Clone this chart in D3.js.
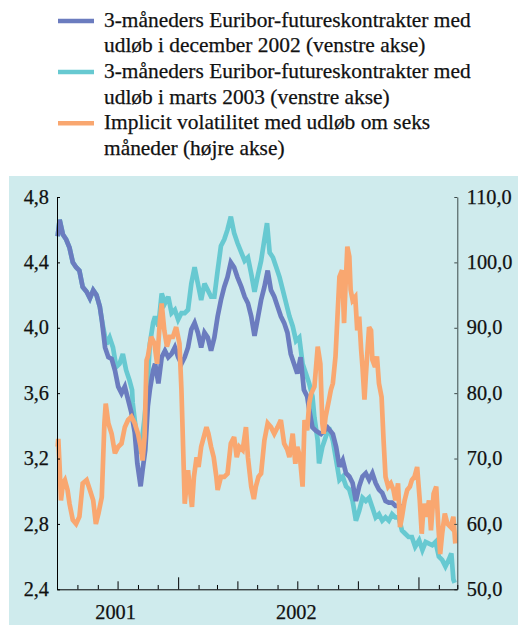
<!DOCTYPE html>
<html>
<head>
<meta charset="utf-8">
<script src="https://cdn.jsdelivr.net/npm/d3@7"></script>
<style>
  html, body { margin: 0; padding: 0; background: #ffffff; }
  svg { display: block; }
  text { font-family: "Liberation Serif", "Times New Roman", "DejaVu Serif", serif; fill: #111; stroke: #111; stroke-width: 0.25px; }
</style>
</head>
<body>
<svg id="chart" width="518" height="626"></svg>
<script>
// ---------- DATA ----------
const legendLabels = [
  ["3-måneders Euribor-futureskontrakter med", "udløb i december 2002 (venstre akse)"],
  ["3-måneders Euribor-futureskontrakter med", "udløb i marts 2003 (venstre akse)"],
  ["Implicit volatilitet med udløb om seks", "måneder (højre akse)"]
];
const leftTicks = [2.4, 2.8, 3.2, 3.6, 4.0, 4.4, 4.8];
const rightTicks = [50, 60, 70, 80, 90, 100, 110];
const yearLabels = ["2001", "2002"];

const dec02 = [
["2001-07-02",4.56],["2001-07-05",4.66],["2001-07-10",4.57],["2001-07-15",4.54],["2001-07-20",4.49],["2001-07-25",4.40],["2001-07-30",4.37],["2001-08-04",4.35],["2001-08-09",4.25],["2001-08-15",4.22],["2001-08-20",4.18],["2001-08-25",4.23],["2001-08-30",4.20],["2001-09-04",4.13],["2001-09-07",4.05],["2001-09-12",3.88],["2001-09-17",3.82],["2001-09-22",3.81],["2001-09-27",3.74],["2001-10-02",3.64],["2001-10-07",3.60],["2001-10-12",3.64],["2001-10-17",3.56],["2001-10-22",3.48],["2001-10-27",3.36],["2001-10-31",3.17],["2001-11-05",3.03],["2001-11-08",3.13],["2001-11-12",3.25],["2001-11-16",3.52],["2001-11-19",3.62],["2001-11-24",3.74],["2001-11-27",3.78],["2001-12-02",3.66],["2001-12-07",3.82],["2001-12-12",3.86],["2001-12-17",3.82],["2001-12-22",3.84],["2001-12-27",3.88],
["2002-01-01",3.82],["2002-01-06",3.78],["2002-01-11",3.82],["2002-01-16",3.88],["2002-01-21",3.99],["2002-01-26",4.03],["2002-01-31",3.97],["2002-02-05",3.88],["2002-02-10",3.97],["2002-02-15",3.94],["2002-02-20",3.86],["2002-02-25",3.94],["2002-03-02",4.07],["2002-03-07",4.17],["2002-03-12",4.25],["2002-03-17",4.31],["2002-03-22",4.40],["2002-03-27",4.37],["2002-04-01",4.31],["2002-04-07",4.25],["2002-04-12",4.19],["2002-04-17",4.15],["2002-04-22",4.07],["2002-04-27",3.95],["2002-05-02",4.06],["2002-05-07",4.17],["2002-05-12",4.25],["2002-05-17",4.35],["2002-05-22",4.23],["2002-05-27",4.19],["2002-06-01",4.13],["2002-06-06",4.07],["2002-06-11",4.03],["2002-06-16",3.97],["2002-06-21",3.84],["2002-06-26",3.78],["2002-07-01",3.72],["2002-07-06",3.82],["2002-07-11",3.62],["2002-07-16",3.58],["2002-07-19",3.50],["2002-07-24",3.39],["2002-07-29",3.37],["2002-08-06",3.35],["2002-08-16",3.39],["2002-08-24",3.35],["2002-08-29",3.27],["2002-09-03",3.15],["2002-09-08",3.19],["2002-09-13",3.11],["2002-09-18",3.09],["2002-09-23",3.05],["2002-09-28",2.94],["2002-10-03",3.03],["2002-10-08",3.09],["2002-10-13",3.11],["2002-10-18",3.07],["2002-10-23",3.11],["2002-10-28",3.05],["2002-11-02",3.01],["2002-11-07",2.99],["2002-11-12",2.94],["2002-11-17",2.93],["2002-11-22",2.93],["2002-11-27",2.91],["2002-12-04",2.91],["2002-12-08",2.90]
];

const mar03 = [
["2001-07-02",4.56],["2001-07-05",4.66],["2001-07-10",4.57],["2001-07-15",4.54],["2001-07-20",4.49],["2001-07-25",4.40],["2001-07-30",4.37],["2001-08-04",4.35],["2001-08-09",4.25],["2001-08-15",4.22],["2001-08-20",4.18],["2001-08-25",4.23],["2001-08-30",4.20],["2001-09-04",4.13],["2001-09-07",4.05],["2001-09-14",3.90],["2001-09-19",3.94],["2001-09-24",3.88],["2001-09-29",3.76],["2001-10-04",3.78],["2001-10-09",3.84],["2001-10-14",3.74],["2001-10-19",3.68],["2001-10-23",3.62],["2001-10-24",3.54],["2001-10-29",3.37],["2001-11-03",3.23],["2001-11-07",3.31],["2001-11-11",3.45],["2001-11-15",3.62],["2001-11-19",3.90],["2001-11-24",4.03],["2001-11-27",4.07],["2001-12-02",4.01],["2001-12-07",4.21],["2001-12-12",4.15],["2001-12-17",4.19],["2001-12-22",4.09],["2001-12-27",4.11],
["2002-01-01",4.05],["2002-01-06",4.09],["2002-01-11",4.09],["2002-01-16",4.11],["2002-01-21",4.27],["2002-01-26",4.37],["2002-01-31",4.27],["2002-02-05",4.17],["2002-02-10",4.27],["2002-02-15",4.23],["2002-02-20",4.19],["2002-02-25",4.19],["2002-03-02",4.35],["2002-03-07",4.50],["2002-03-12",4.54],["2002-03-17",4.60],["2002-03-22",4.68],["2002-03-27",4.58],["2002-04-01",4.52],["2002-04-07",4.46],["2002-04-12",4.41],["2002-04-17",4.43],["2002-04-22",4.33],["2002-04-27",4.22],["2002-05-02",4.32],["2002-05-07",4.41],["2002-05-12",4.54],["2002-05-16",4.64],["2002-05-20",4.46],["2002-05-25",4.43],["2002-05-30",4.37],["2002-06-04",4.31],["2002-06-09",4.23],["2002-06-14",4.15],["2002-06-19",4.07],["2002-06-24",4.01],["2002-06-29",3.92],["2002-07-04",3.94],["2002-07-09",3.78],["2002-07-14",3.72],["2002-07-19",3.66],["2002-07-24",3.58],["2002-07-27",3.45],["2002-08-01",3.31],["2002-08-03",3.17],["2002-08-08",3.27],["2002-08-13",3.33],["2002-08-18",3.39],["2002-08-24",3.31],["2002-08-29",3.19],["2002-09-03",3.07],["2002-09-08",3.09],["2002-09-13",3.03],["2002-09-18",3.01],["2002-09-23",2.94],["2002-09-28",2.82],["2002-10-03",2.88],["2002-10-08",2.96],["2002-10-13",2.94],["2002-10-18",2.96],["2002-10-23",2.90],["2002-10-28",2.84],["2002-11-02",2.86],["2002-11-07",2.82],["2002-11-12",2.84],["2002-11-17",2.82],["2002-11-22",2.86],["2002-11-27",2.84],["2002-12-02",2.84],["2002-12-07",2.76],["2002-12-12",2.74],["2002-12-17",2.72],["2002-12-22",2.72],["2002-12-27",2.66],
["2003-01-02",2.70],["2003-01-07",2.64],["2003-01-12",2.69],["2003-01-17",2.68],["2003-01-22",2.67],["2003-01-27",2.69],["2003-02-01",2.60],["2003-02-06",2.58],["2003-02-11",2.54],["2003-02-16",2.58],["2003-02-20",2.62],["2003-02-23",2.46],["2003-02-25",2.44]
];

const vol = [
["2001-07-02",71.8],["2001-07-03",73.0],["2001-07-05",68.7],["2001-07-07",63.6],["2001-07-10",66.2],["2001-07-13",66.7],["2001-07-17",65.2],["2001-07-20",63.1],["2001-07-25",60.6],["2001-07-30",60.0],["2001-08-04",61.1],["2001-08-09",66.2],["2001-08-15",66.7],["2001-08-20",65.2],["2001-08-25",63.6],["2001-08-29",60.0],["2001-09-02",61.6],["2001-09-07",64.1],["2001-09-11",75.4],["2001-09-13",78.4],["2001-09-17",75.4],["2001-09-22",73.8],["2001-09-27",70.8],["2001-10-02",71.8],["2001-10-07",72.3],["2001-10-12",74.8],["2001-10-17",75.9],["2001-10-22",76.4],["2001-10-27",75.4],["2001-11-01",73.8],["2001-11-05",71.8],["2001-11-08",69.7],["2001-11-11",73.3],["2001-11-14",85.0],["2001-11-16",85.6],["2001-11-21",88.6],["2001-11-26",87.6],["2001-11-30",84.5],["2001-12-04",90.7],["2001-12-07",93.7],["2001-12-11",89.6],["2001-12-15",87.1],["2001-12-19",88.6],["2001-12-24",88.6],["2001-12-29",90.1],
["2002-01-03",87.6],["2002-01-06",80.5],["2002-01-09",70.2],["2002-01-11",63.1],["2002-01-14",66.2],["2002-01-16",68.2],["2002-01-19",65.2],["2002-01-22",62.6],["2002-01-25",67.2],["2002-01-29",70.2],["2002-02-01",68.7],["2002-02-05",71.8],["2002-02-09",73.3],["2002-02-13",74.8],["2002-02-16",73.8],["2002-02-20",71.8],["2002-02-24",70.2],["2002-02-28",67.2],["2002-03-02",65.2],["2002-03-07",67.2],["2002-03-12",67.2],["2002-03-17",67.7],["2002-03-22",72.3],["2002-03-27",73.3],["2002-03-31",70.2],["2002-04-04",71.8],["2002-04-09",71.3],["2002-04-14",74.8],["2002-04-17",70.2],["2002-04-22",65.7],["2002-04-26",63.8],["2002-04-29",65.7],["2002-05-03",67.2],["2002-05-07",67.7],["2002-05-12",72.8],["2002-05-17",75.4],["2002-05-22",74.8],["2002-05-27",73.8],["2002-06-01",74.8],["2002-06-06",75.9],["2002-06-11",72.3],["2002-06-16",71.3],["2002-06-19",70.2],["2002-06-24",73.8],["2002-06-28",69.2],["2002-07-01",71.8],["2002-07-05",70.2],["2002-07-09",65.7],["2002-07-12",75.9],["2002-07-16",74.3],["2002-07-19",78.4],["2002-07-22",79.9],["2002-07-27",81.0],["2002-08-01",87.1],["2002-08-05",84.5],["2002-08-08",75.4],["2002-08-10",73.8],["2002-08-13",76.4],["2002-08-18",78.9],["2002-08-21",80.5],["2002-08-24",81.5],["2002-08-28",85.6],["2002-08-31",91.7],["2002-09-03",97.8],["2002-09-07",98.8],["2002-09-10",90.7],["2002-09-12",95.8],["2002-09-15",102.4],["2002-09-18",100.9],["2002-09-20",95.8],["2002-09-23",94.2],["2002-09-27",94.7],["2002-09-30",89.6],["2002-10-03",91.7],["2002-10-06",86.6],["2002-10-08",84.0],["2002-10-11",79.0],["2002-10-13",82.5],["2002-10-16",87.1],["2002-10-18",90.1],["2002-10-21",89.6],["2002-10-23",85.1],["2002-10-27",84.0],["2002-10-30",85.6],["2002-11-02",81.5],["2002-11-06",79.4],["2002-11-09",72.8],["2002-11-12",67.2],["2002-11-16",65.7],["2002-11-20",66.2],["2002-11-24",65.2],["2002-11-27",63.6],["2002-12-01",66.2],["2002-12-04",59.5],["2002-12-07",61.1],["2002-12-11",63.6],["2002-12-15",65.2],["2002-12-19",65.7],["2002-12-22",66.7],["2002-12-26",67.2],["2002-12-30",68.7],
["2003-01-03",63.6],["2003-01-06",58.5],["2003-01-09",63.1],["2003-01-13",61.1],["2003-01-17",63.6],["2003-01-20",59.0],["2003-01-24",64.6],["2003-01-28",65.7],["2003-01-31",60.0],["2003-02-03",55.4],["2003-02-06",58.5],["2003-02-10",61.6],["2003-02-14",60.0],["2003-02-19",59.5],["2003-02-23",61.1],["2003-02-26",57.0]
];

const colors = { dec02: "#6b7cbf", mar03: "#67c9d1", vol: "#f9a770", panel: "#cfebed" };

// ---------- CHART ----------
const svg = d3.select("#chart");
const parse = d3.timeParse("%Y-%m-%d");
const xStart = new Date(2001, 6, 1), xEnd = new Date(2003, 2, 1);
const plot = { left: 57, right: 457.3, top: 197, bottom: 589.3 };
const serif = '"Liberation Serif", "Times New Roman", "DejaVu Serif", serif';

const x = d3.scaleTime().domain([xStart, xEnd]).range([plot.left, plot.right]);
const yL = d3.scaleLinear().domain([2.4, 4.8]).range([plot.bottom, plot.top]);
const yR = d3.scaleLinear().domain([50, 110]).range([plot.bottom, plot.top]);

// panel background
svg.append("rect").attr("x", 9).attr("y", 176).attr("width", 509).attr("height", 449)
  .attr("fill", colors.panel);

// legend
const legendSeries = [colors.dec02, colors.mar03, colors.vol];
const lg = svg.append("g");
legendSeries.forEach((c, i) => {
  const base = 26.7 + i * 51.2;
  lg.append("line").attr("x1", 58).attr("x2", 94)
    .attr("y1", base - 5.8).attr("y2", base - 5.8)
    .attr("stroke", c).attr("stroke-width", 4.5);
  const t = lg.append("text").attr("x", 104).attr("y", base)
    .style("font-family", serif).style("font-size", "21.4px");
  legendLabels[i].forEach((s, j) => {
    t.append("tspan").attr("x", 104).attr("y", base + j * 25.6).text(s);
  });
});

const fmt = d => d3.format(".1f")(d).replace(".", ",");

// lines
const lineL = d3.line().x(d => x(parse(d[0]))).y(d => yL(d[1]));
const lineR = d3.line().x(d => x(parse(d[0]))).y(d => yR(d[1]));
[[mar03, lineL, colors.mar03], [dec02, lineL, colors.dec02], [vol, lineR, colors.vol]]
  .forEach(([data, gen, col]) => {
    svg.append("path").datum(data).attr("d", gen).attr("fill", "none")
      .attr("stroke", col).attr("stroke-width", 4.7)
      .attr("stroke-linejoin", "miter").attr("stroke-miterlimit", 3);
  });

// left axis
const axL = svg.append("g").attr("transform", `translate(${plot.left},0)`)
  .call(d3.axisLeft(yL).tickValues(leftTicks).tickFormat(fmt)
    .tickSizeInner(-3).tickSizeOuter(0).tickPadding(8));
axL.select(".domain").attr("stroke", "#000");
axL.selectAll(".tick line").attr("stroke", "#000");
axL.selectAll("text").style("font-family", serif).style("font-size", "20.3px").attr("dy", "0.3em");

// right axis
const axR = svg.append("g").attr("transform", `translate(${plot.right},0)`)
  .call(d3.axisRight(yR).tickValues(rightTicks).tickFormat(fmt)
    .tickSizeInner(-3).tickSizeOuter(0).tickPadding(9.5));
axR.select(".domain").attr("stroke", "#3d4a4a");
axR.selectAll(".tick line").attr("stroke", "#3d4a4a");
axR.selectAll("text").style("font-family", serif).style("font-size", "20.3px").attr("dy", "0.3em");

// bottom axis with monthly / quarterly / yearly ticks
const axB = svg.append("g").attr("transform", `translate(0,${plot.bottom})`)
  .call(d3.axisBottom(x).ticks(d3.timeMonth.every(1)).tickFormat("")
    .tickSizeInner(-4).tickSizeOuter(0));
axB.select(".domain").attr("stroke", "#000");
axB.selectAll(".tick line").attr("stroke", "#000")
  .attr("y2", d => d.getMonth() === 0 ? -12 : (d.getMonth() % 3 === 0 ? -8 : -4.3));

// year labels centred in the visible part of each year
yearLabels.forEach(yr => {
  const a = new Date(+yr, 0, 1), b = new Date(+yr + 1, 0, 1);
  const x0 = x(a < xStart ? xStart : a), x1 = x(b > xEnd ? xEnd : b);
  svg.append("text").attr("x", (x0 + x1) / 2 - 2).attr("y", 619.3)
    .attr("text-anchor", "middle").style("font-family", serif)
    .style("font-size", "20.3px").text(yr);
});
</script>
</body>
</html>
